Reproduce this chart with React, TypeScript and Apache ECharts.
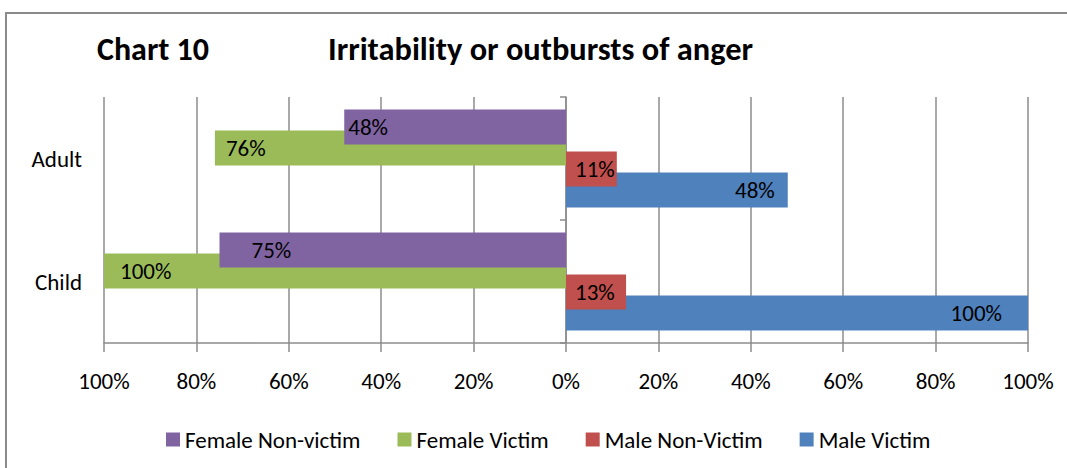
import React, { useEffect, useRef } from 'react';
import * as echarts from 'echarts';

const categories = ['Child', 'Adult'];
const femaleNonVictim = [75, 48];
const femaleVictim = [100, 76];
const maleNonVictim = [13, 11];
const maleVictim = [100, 48];
const seriesNames = ['Female Non-victim', 'Female Victim', 'Male Non-Victim', 'Male Victim'];
const colors = ['#8064A2', '#9BBB59', '#C0504D', '#4F81BD'];

// label distances (style only)
const labelDist = {
  fnv: [32, 4],
  fv: [16, 11],
  mnv: [9, 9],
  mv: [26, 13],
};

const FONT = 'Carlito, Lato, sans-serif';
const GRID = '#8c8c8c';
const FS = 23;

export default function App() {
  const ref = useRef<HTMLDivElement>(null);
  useEffect(() => {
    document.body.style.margin = '0';
    const chart = echarts.init(ref.current!, null, { renderer: 'svg' });
    const fmt = (p: any) => Math.abs(p.value) + '%';
    const mk = (vals: number[], neg: boolean, dists: number[]) =>
      vals.map((v, i) => ({ value: neg ? -v : v, label: { distance: dists[i] } }));
    const labelBase = { show: true, color: '#000', fontSize: FS, fontFamily: FONT, formatter: fmt };
    chart.setOption({
      animation: false,
      textStyle: { fontFamily: FONT },
      title: [
        { text: 'Chart 10', left: 97, top: 33, padding: 0, textStyle: { fontSize: 32, fontWeight: 'bold', color: '#000', fontFamily: FONT } },
        { text: 'Irritability or outbursts of anger', left: 328, top: 33, padding: 0, textStyle: { fontSize: 32.4, fontWeight: 'bold', color: '#000', fontFamily: FONT } },
      ],
      graphic: [
        { type: 'rect', shape: { x: 6, y: 13, width: 1200, height: 600 }, style: { fill: 'none', stroke: '#8a8a8a', lineWidth: 2 }, silent: true },
      ],
      legend: {
        data: seriesNames,
        left: 166,
        top: 428,
        padding: 0,
        icon: 'rect',
        itemWidth: 14,
        itemHeight: 14,
        itemGap: 37,
        textStyle: { fontSize: FS, color: '#000', fontFamily: FONT },
      },
      grid: { left: 104, right: 39, top: 97, bottom: 125, containLabel: false },
      xAxis: {
        type: 'value',
        min: -100,
        max: 100,
        interval: 20,
        axisLine: { show: true, lineStyle: { color: GRID, width: 1.5 } },
        axisTick: { show: true, length: 9, lineStyle: { color: GRID, width: 1.5 } },
        splitLine: { show: true, lineStyle: { color: GRID, width: 1.5 } },
        axisLabel: { formatter: (v: number) => Math.abs(v) + '%', fontSize: FS, color: '#000', margin: 26, fontFamily: FONT },
      },
      yAxis: [
        {
          type: 'category',
          data: categories,
          position: 'left',
          axisLine: { show: false },
          axisTick: { show: false },
          splitLine: { show: false },
          axisLabel: { fontSize: FS, color: '#000', margin: 22, fontFamily: FONT },
        },
        {
          type: 'category',
          data: categories,
          position: 'left',
          offset: -462,
          axisLine: { show: true, lineStyle: { color: GRID, width: 1.5 } },
          axisTick: { show: true, length: 6, lineStyle: { color: GRID, width: 1.5 } },
          axisLabel: { show: false },
          splitLine: { show: false },
        },
      ],
      series: [
        { name: seriesNames[0], type: 'bar', z: 4, barWidth: 35, barGap: '-40%', itemStyle: { color: colors[0] }, label: { ...labelBase, position: 'insideLeft' }, data: mk(femaleNonVictim, true, labelDist.fnv) },
        { name: seriesNames[1], type: 'bar', z: 3, barWidth: 35, barGap: '-40%', itemStyle: { color: colors[1] }, label: { ...labelBase, position: 'insideLeft' }, data: mk(femaleVictim, true, labelDist.fv) },
        { name: seriesNames[2], type: 'bar', z: 4, barWidth: 35, barGap: '-40%', itemStyle: { color: colors[2] }, label: { ...labelBase, position: 'insideLeft' }, data: mk(maleNonVictim, false, labelDist.mnv) },
        { name: seriesNames[3], type: 'bar', z: 3, barWidth: 35, barGap: '-40%', itemStyle: { color: colors[3] }, label: { ...labelBase, position: 'insideRight' }, data: mk(maleVictim, false, labelDist.mv) },
      ],
    });
    return () => chart.dispose();
  }, []);
  return <div ref={ref} style={{ width: 1067, height: 468 }} />;
}
